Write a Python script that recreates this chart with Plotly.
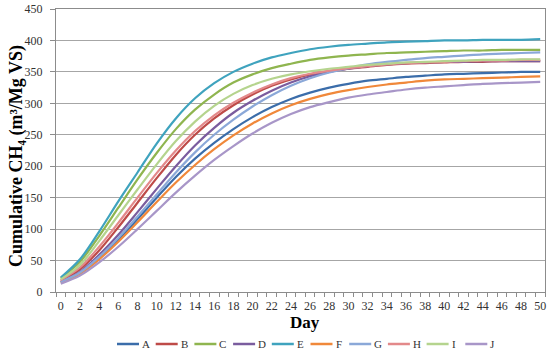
import plotly.graph_objects as go

days = list(range(0, 51, 2))
series_names = ["A", "B", "C", "D", "E", "F", "G", "H", "I", "J"]

A = [15, 30, 54, 83, 116, 150, 183, 212, 237, 259, 278, 294, 307, 317, 325, 331, 336, 339, 342, 344, 346, 347, 348, 349, 350, 350]
B = [18, 36, 66, 103, 142, 181, 218, 250, 276, 297, 314, 328, 338, 346, 351, 355, 358, 361, 363, 364, 365, 366, 366, 367, 367, 367]
C = [22, 48, 89, 134, 179, 221, 259, 290, 314, 333, 346, 356, 363, 369, 373, 376, 378, 380, 381, 382, 383, 384, 384, 385, 385, 385]
D = [16, 32, 59, 91, 127, 164, 200, 233, 261, 285, 304, 320, 333, 343, 350, 355, 359, 362, 364, 365, 366, 366, 367, 367, 367, 367]
E = [23, 52, 96, 144, 190, 236, 276, 308, 332, 350, 363, 373, 380, 386, 390, 393, 395, 397, 398, 399, 400, 400, 401, 401, 401, 402]
F = [15, 29, 52, 80, 111, 143, 174, 202, 227, 249, 268, 284, 297, 307, 315, 321, 326, 330, 333, 336, 338, 339, 340, 341, 342, 343]
G = [16, 31, 56, 86, 120, 155, 190, 222, 250, 274, 295, 313, 328, 340, 349, 356, 362, 366, 369, 372, 374, 376, 378, 379, 380, 381]
H = [19, 39, 72, 110, 150, 189, 225, 256, 281, 301, 317, 330, 340, 347, 352, 356, 359, 362, 364, 365, 366, 367, 368, 368, 369, 369]
I = [20, 43, 81, 122, 163, 203, 240, 271, 296, 315, 329, 339, 346, 351, 355, 358, 361, 363, 365, 366, 367, 368, 369, 369, 370, 370]
J = [13, 26, 47, 72, 100, 129, 158, 185, 210, 232, 252, 269, 283, 294, 302, 309, 314, 318, 322, 325, 327, 329, 331, 332, 333, 334]

values = [A, B, C, D, E, F, G, H, I, J]
colors = ["#3B6DAA", "#BE4B48", "#8FB54F", "#7A5C9E", "#3FA3BE",
          "#F0883A", "#8BA8D8", "#E3898A", "#B5D48E", "#A896C8"]

x_ticks = list(range(0, 51, 2))
y_ticks = list(range(0, 451, 50))

serif = "Liberation Serif"

W, H_ = 550, 355
ML, MR, MT, MB = 56, 5, 9, 63
plot_w = W - ML - MR
plot_h = H_ - MT - MB


def px_x(wx):
    return (wx - ML) / plot_w


def px_y(wy):
    return (H_ - MB - wy) / plot_h


fig = go.Figure()
for name, vals, col in zip(series_names, values, colors):
    fig.add_trace(go.Scatter(x=days, y=vals, name=name, mode="lines", showlegend=False,
                             line=dict(color=col, width=2.2, shape="spline", smoothing=0.9)))

# hand-built legend row (short line samples + labels)
leg_y = px_y(344)
for i, (name, col) in enumerate(zip(series_names, colors)):
    x0 = 117 + i * 38.7
    fig.add_shape(type="line", xref="paper", yref="paper",
                  x0=px_x(x0), x1=px_x(x0 + 22), y0=leg_y, y1=leg_y,
                  line=dict(color=col, width=2.5))
    fig.add_annotation(xref="paper", yref="paper", x=px_x(x0 + 23), y=leg_y,
                       text=name, showarrow=False, xanchor="left", yanchor="middle",
                       font=dict(family=serif, size=11, color="#333333"))

# axis titles
fig.add_annotation(xref="paper", yref="paper", x=px_x(16), y=px_y(156),
                   text="<b>Cumulative CH₄ (m³/Mg VS)</b>", textangle=-90, showarrow=False,
                   xanchor="center", yanchor="middle",
                   font=dict(family=serif, size=18, color="#000000"))
fig.add_annotation(xref="paper", yref="paper", x=px_x(305), y=px_y(323),
                   text="<b>Day</b>", showarrow=False, xanchor="center", yanchor="middle",
                   font=dict(family=serif, size=17, color="#000000"))

fig.update_layout(
    width=W, height=H_,
    margin=dict(l=ML, r=MR, t=MT, b=MB),
    paper_bgcolor="white", plot_bgcolor="white",
    font=dict(family=serif, color="#333333", size=11),
    showlegend=False,
)
fig.update_xaxes(
    range=[-0.5, 50.5], tickmode="array", tickvals=x_ticks, ticktext=[str(v) for v in x_ticks],
    ticks="", ticklabelstandoff=3, ticklabeloverflow="allow",
    showgrid=False, showline=True, linecolor="#8c8c8c", linewidth=1, mirror=True,
    tickfont=dict(family=serif, size=12, color="#333333"), automargin=False,
    minor=dict(ticks="outside", tick0=-0.5, dtick=1, ticklen=4, tickcolor="#8c8c8c", showgrid=False),
    zeroline=False,
)
fig.update_yaxes(
    range=[0, 450], tickmode="array", tickvals=y_ticks, automargin=False,
    ticks="outside", ticklen=5, tickcolor="#8c8c8c", ticklabelstandoff=5, ticklabeloverflow="allow",
    showgrid=True, gridcolor="#a6a6a6", gridwidth=1,
    showline=True, linecolor="#8c8c8c", linewidth=1, mirror=True,
    tickfont=dict(family=serif, size=12, color="#333333"),
    zeroline=False,
)
fig.write_html("out.html", config={"displayModeBar": False},
               post_script="document.body.style.margin='0px';")
